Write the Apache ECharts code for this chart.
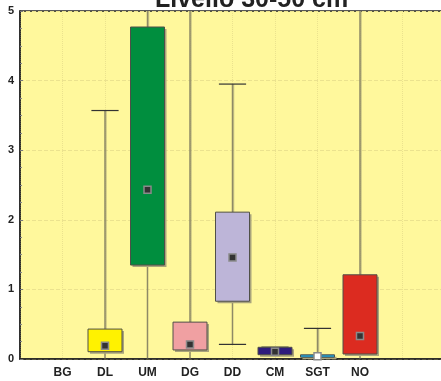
<!DOCTYPE html>
<html>
<head>
<meta charset="utf-8">
<script src="https://cdn.jsdelivr.net/npm/echarts@6/dist/echarts.min.js"></script>
<style>
  html, body { margin: 0; padding: 0; background: #ffffff; }
  #chart { width: 441px; height: 381px; }
</style>
</head>
<body>
<div id="chart"></div>
<script>
// Axis slots: one empty slot on the left, two on the right
const categories = ['', 'BG', 'DL', 'UM', 'DG', 'DD', 'CM', 'SGT', 'NO', '', ''];

// Per-group statistics (null = no data for that group)
const groups      = ['BG', 'DL', 'UM', 'DG', 'DD', 'CM', 'SGT', 'NO'];
const whiskerLow  = [null, 0.00, 0.00, 0.00, 0.21, 0.05, 0.00, 0.00];
const boxLow      = [null, 0.105, 1.35, 0.13, 0.83, 0.062, 0.025, 0.072];
const boxHigh     = [null, 0.43, 4.77, 0.53, 2.11, 0.168, 0.06, 1.21];
const whiskerHigh = [null, 3.57, 6.10, 5.80, 3.95, 0.17, 0.44, 5.40];
const medians     = [null, 0.19, 2.43, 0.21, 1.46, 0.105, 0.04, 0.33];
const boxColors   = ['#ffffff', '#fff200', '#008e3e', '#f0a0a2', '#bdb5d8', '#2e1c7c', '#1ea3dd', '#dc2b20'];
const markerFill  = ['#333333', '#333333', '#333333', '#333333', '#333333', '#333333', '#ffffff', '#333333'];

const boxData = [];
const medianData = [];
groups.forEach((g, i) => {
  if (boxLow[i] === null) return;
  const x = categories.indexOf(g);
  boxData.push({ value: [x, whiskerLow[i], boxLow[i], boxHigh[i], whiskerHigh[i]], fill: boxColors[i] });
  medianData.push({ value: [x, medians[i]], itemStyle: { color: markerFill[i] } });
});

function renderBox(params, api) {
  const x = api.value(0);
  const pLow = api.coord([x, api.value(1)]);
  const pQ1 = api.coord([x, api.value(2)]);
  const pQ3 = api.coord([x, api.value(3)]);
  const pHigh = api.coord([x, api.value(4)]);
  const band = api.size([1, 0])[0];
  const bw = band * 0.8;
  const cw = band * 0.64;
  const cx = pQ1[0];
  const fill = boxData[params.dataIndex].fill;
  const whisker = { stroke: '#8e8a66', lineWidth: 1.5 };
  const cap = { stroke: '#333333', lineWidth: 1.2 };
  return {
    type: 'group',
    children: [
      { type: 'line', shape: { x1: cx + 1, y1: pHigh[1], x2: cx + 1, y2: pQ3[1] }, style: { stroke: 'rgba(150,145,110,0.5)', lineWidth: 1.5 } },
      { type: 'line', shape: { x1: cx, y1: pHigh[1], x2: cx, y2: pQ3[1] }, style: whisker },
      { type: 'line', shape: { x1: cx, y1: pQ1[1], x2: cx, y2: pLow[1] }, style: whisker },
      { type: 'line', shape: { x1: cx - cw / 2, y1: pHigh[1], x2: cx + cw / 2, y2: pHigh[1] }, style: cap },
      { type: 'line', shape: { x1: cx - cw / 2, y1: pLow[1], x2: cx + cw / 2, y2: pLow[1] }, style: cap },
      { type: 'rect', shape: { x: cx - bw / 2 + 2, y: pQ3[1] + 2, width: bw, height: pQ1[1] - pQ3[1] }, style: { fill: '#a9a47c' } },
      { type: 'rect', shape: { x: cx - bw / 2, y: pQ3[1], width: bw, height: pQ1[1] - pQ3[1] }, style: { fill: fill, stroke: '#505048', lineWidth: 1 } }
    ]
  };
}

const chart = echarts.init(document.getElementById('chart'), null, { renderer: 'canvas' });
chart.setOption({
  animation: false,
  backgroundColor: '#ffffff',
  title: {
    text: 'Livello 30-50 cm',
    left: 150,
    top: -17,
    textStyle: { fontFamily: 'Liberation Sans', fontWeight: 'bold', fontSize: 25, color: '#222222' }
  },
  grid: {
    left: 20, right: -4, top: 11, bottom: 22,
    outerBoundsMode: 'none',
    containLabel: false,
    show: true, backgroundColor: '#fff89c', borderColor: '#222222', borderWidth: 1.5
  },
  xAxis: {
    type: 'category',
    data: categories,
    boundaryGap: false,
    axisLine: { lineStyle: { color: '#222222', width: 1.5 } },
    axisTick: { show: false },
    axisLabel: { interval: 0, margin: 8, fontFamily: 'Liberation Sans', fontWeight: 'bold', fontSize: 12, color: '#222222' },
    splitLine: { show: true, lineStyle: { color: '#ebe28e', type: 'dotted', width: 1 } }
  },
  yAxis: {
    type: 'value',
    min: 0, max: 5, interval: 1,
    axisLine: { show: true, lineStyle: { color: '#222222', width: 1.5 } },
    axisTick: { show: true, inside: true, length: 3, lineStyle: { color: '#777777' } },
    minorTick: { show: true, splitNumber: 4, length: 2, lineStyle: { color: '#888888' } },
    axisLabel: { margin: 6, fontFamily: 'Liberation Sans', fontWeight: 'bold', fontSize: 11, color: '#222222' },
    splitLine: { show: true, lineStyle: { color: '#ebe28e', type: 'dashed', width: 1 } }
  },
  series: [
    {
      type: 'custom',
      clip: true,
      renderItem: renderBox,
      encode: { x: 0, y: [1, 2, 3, 4] },
      data: boxData,
      z: 2
    },
    {
      type: 'scatter',
      symbol: 'rect',
      symbolSize: 7,
      itemStyle: { borderColor: '#8a8a8a', borderWidth: 1.5, opacity: 1 },
      data: medianData,
      z: 3
    }
  ]
});
</script>
</body>
</html>
